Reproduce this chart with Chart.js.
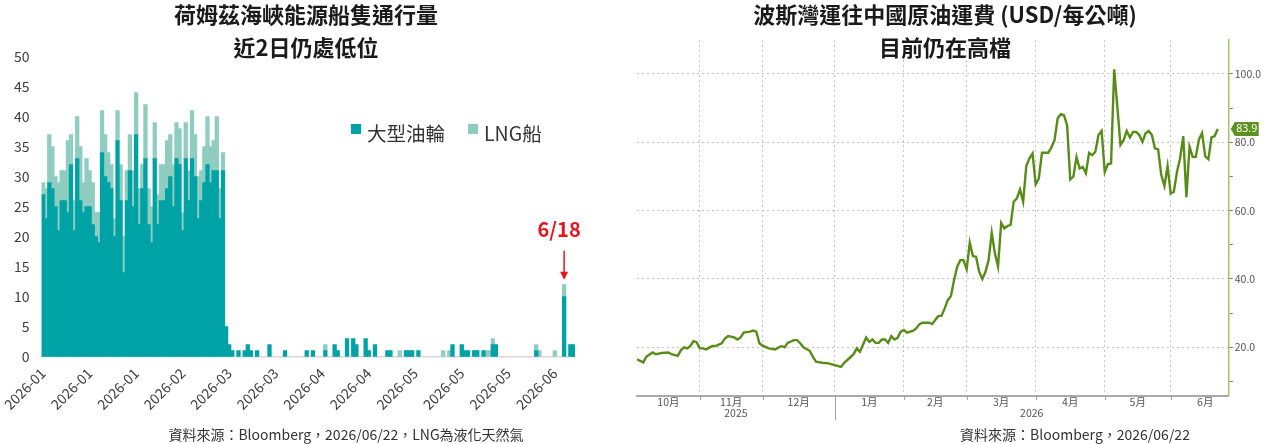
<!doctype html>
<html>
  <head>
    <meta charset="utf-8">
    <title>荷姆茲海峽船隻通行量 / 波斯灣運費</title>
    <script src="https://cdn.jsdelivr.net/npm/chart.js@4.4.1/dist/chart.umd.min.js"></script>
    <style>
        * { margin: 0; padding: 0; box-sizing: border-box; }
        body { width: 1265px; height: 444px; position: relative; overflow: hidden; background: #fff;
               font-family: "Noto Sans CJK TC", "Noto Sans", sans-serif; color: #222; }
        .box { position: absolute; top: 0; height: 444px; }
        .title { position: absolute; top: -3px; text-align: center; font-size: 22px; font-weight: bold; line-height: 33px; color: #1a1a1a; }
        .note { position: absolute; top: 424px; font-size: 14px; line-height: 20px; color: #333; white-space: nowrap; transform: translateX(-50%); }
        #legend { position: absolute; left: 351px; top: 118px; height: 28px; display: flex; align-items: center; font-size: 19.5px; color: #333; }
        #legend span.sq { display: inline-block; width: 10px; height: 10px; position: relative; top: -3px; margin-right: 6px; }
        #legend span.item { display: flex; align-items: center; margin-right: 23px; }
    </style>
  </head>
  <body>
    <div class="box" style="left:-10px; width:635px"><canvas id="shipCanvas"></canvas></div>
    <div class="box" style="left:630px; width:635px"><canvas id="rateCanvas"></canvas></div>

    <div class="title" style="left:0; width:612px">荷姆茲海峽能源船隻通行量<br>近2日仍處低位</div>
    <div class="title" style="left:630px; width:630px">波斯灣運往中國原油運費 (USD/每公噸)<br>目前仍在高檔</div>

    <div id="legend">
      <span class="item"><span class="sq" style="background:#00a3a5"></span>大型油輪</span>
      <span class="item"><span class="sq" style="background:#8ecdbf"></span>LNG船</span>
    </div>

    <div class="note" style="left:346px">資料來源：Bloomberg，2026/06/22，LNG為液化天然氣</div>
    <div class="note" style="left:1075px">資料來源：Bloomberg，2026/06/22</div>

    <script>
    // ---- left: daily ship counts from 2026-01-01 ----
    const tanker = [
      27,23,29,28,25,21,26,26,24,32,
      21,33,26,24,25,25,22,20,19,34,
      30,29,28,20,36,26,14,26,31,25,
      37,22,28,33,22,19,33,22,26,26,
      28,30,25,33,32,21,33,26,33,30,
      23,26,29,32,29,31,31,23,31,5,
      2,1,0,1,0,1,2,1,0,1,
      0,0,0,2,0,0,0,0,1,0,
      0,0,0,0,0,1,0,1,0,0,
      0,1,0,0,2,1,0,0,3,0,
      3,2,0,0,3,1,0,2,0,0,
      0,1,1,0,0,0,0,1,1,1,
      0,1,0,0,0,0,0,0,0,0,
      0,0,2,0,0,2,1,1,0,1,
      1,0,1,0,0,2,2,0,0,0,
      0,0,0,0,0,0,0,0,0,1,
      0,0,0,0,0,0,0,0,10,0,
      2,2
    ];
    const lng = [
      2,5,8,7,5,8,5,5,12,5,
      5,7,9,5,8,6,7,4,5,7,
      7,5,4,3,5,6,6,5,6,6,
      7,6,4,9,6,6,6,5,6,6,
      8,7,7,6,6,3,6,5,8,7,
      7,5,6,8,6,5,9,5,3,0,
      0,0,0,0,0,0,0,0,0,0,
      0,0,0,0,0,0,0,0,0,0,
      0,0,0,0,0,0,0,0,0,0,
      0,1,0,0,0,0,0,0,0,0,
      0,0,0,0,0,0,0,0,0,0,
      0,0,0,0,0,1,0,0,0,0,
      0,0,0,0,0,0,0,0,0,1,
      0,1,0,0,0,0,0,0,0,0,
      0,0,0,1,1,1,0,0,0,0,
      0,0,0,0,0,0,0,0,0,1,
      1,0,0,0,0,1,0,0,2,0,
      0,0
    ];
    const days = [];
    for (let i = 0; i < tanker.length; i++) {
      days.push(new Date(Date.UTC(2026, 0, 1 + i)).toISOString().slice(0, 10));
    }
    const markDay = '2026-06-18';
    const markText = '6/18';

    // ---- right: freight rate, x = trading days counted from 2025-10-01 ----
    const freightDay = [
      3,5,6,8,9,11,13,14,16,17,
      18,19,20,21,22,23,24,25,27,28,
      30,31,32,34,35,36,37,39,40,41,
      42,43,45,47,49,50,51,53,54,55,
      56,58,59,60,62,64,66,68,69,70,
      72,73,74,76,77,78,79,80,81,82,
      83,84,85,86,87,88,89,91,92,93,
      94,96,97,98,99,100,101,102,103,104,
      105,106,107,108,109,110,111,112,113,114,
      115,116,117,118,119,120,121,122,123,124,
      125,126,127,128,129,130,131,132,133,134,
      135,136,137,138,139,140,141,142,143,144,
      145,146,147,148,149,150,151,152,153,154,
      155,156,157,158,159,160,161,162,163,164,
      165,166,167,168,169,170,171,172,173,174,
      175,176,177,178,179,180,181,182,183,184,
      185,186,187,188
    ];
    const freightValue = [
      16.5,15.6,17.3,18.5,18.0,18.4,18.5,18.0,17.5,19.2,
      20.0,19.7,20.4,21.8,21.5,19.7,19.7,19.4,20.4,20.4,
      21.2,22.6,23.3,22.9,22.3,22.9,24.3,24.6,24.9,24.6,
      21.2,20.5,19.7,19.4,20.4,20.0,21.3,22.1,22.1,21.2,
      20.0,19.0,17.3,15.8,15.5,15.3,14.8,14.3,15.5,16.3,
      18.0,19.7,18.7,22.9,21.6,22.3,21.3,21.3,22.3,22.3,
      21.3,23.3,22.3,22.8,24.6,25.1,24.3,24.9,25.6,26.8,
      27.2,27.2,26.8,28.0,29.2,29.2,31.4,33.8,35.0,39.7,
      43.6,45.5,45.5,42.8,50.6,46.7,46.5,42.1,40.0,42.1,
      45.5,53.5,47.5,43.6,56.4,54.8,55.5,55.8,62.6,63.6,
      66.2,62.6,73.0,75.3,76.7,67.7,69.4,76.9,76.9,76.9,
      78.5,80.6,87.0,88.2,87.9,85.0,69.1,69.9,75.7,72.3,
      72.8,70.9,76.9,76.2,77.2,82.1,83.3,71.3,73.6,73.8,
      101.3,90.4,79.2,80.6,83.3,81.4,83.0,83.0,82.1,80.1,
      82.6,83.3,82.1,78.2,77.9,70.4,67.2,73.0,65.0,65.5,
      71.3,75.3,81.8,63.9,78.7,75.7,75.7,80.8,82.7,75.9,
      75.0,81.4,81.8,83.9
    ];
    const monthNames = ['10月','11月','12月','1月','2月','3月','4月','5月','6月'];
    const yearNames = ['2025','2026'];
    const rateTicks = [10,20,30,40,50,60,70,80,90,100];

    Chart.defaults.font.family = "'Noto Sans CJK TC', 'Noto Sans', sans-serif";
    Chart.defaults.animation = false;

    // trading days (Mon-Fri) from 2025-10-01 up to the given date
    function bizDays(y, m, d) {
      let n = 0;
      const t = new Date(Date.UTC(2025, 9, 1));
      const end = new Date(Date.UTC(y, m, d));
      while (t < end) {
        const w = t.getUTCDay();
        if (w !== 0 && w !== 6) n++;
        t.setUTCDate(t.getUTCDate() + 1);
      }
      return n;
    }

    // ================= left chart =================
    const markPlugin = {
      id: 'markPlugin',
      afterDatasetsDraw(chart) {
        const i = days.indexOf(markDay);
        const xs = chart.scales.x, ys = chart.scales.y;
        const px = xs.getPixelForValue(i);
        const top = ys.getPixelForValue(tanker[i] + lng[i]);
        const c = chart.ctx;
        c.save();
        c.strokeStyle = '#e8141c';
        c.fillStyle = '#e8141c';
        c.lineWidth = 1.5;
        c.beginPath();
        c.moveTo(px, top - 34);
        c.lineTo(px, top - 12);
        c.stroke();
        c.beginPath();
        c.moveTo(px - 4, top - 13);
        c.lineTo(px + 4, top - 13);
        c.lineTo(px, top - 5);
        c.closePath();
        c.fill();
        c.font = "bold 20px 'Noto Sans CJK TC', 'Noto Sans', sans-serif";
        c.textAlign = 'center';
        c.textBaseline = 'middle';
        c.fillText(markText, px - 5, top - 55);
        c.restore();
      }
    };

    var ctx1 = document.getElementById('shipCanvas').getContext('2d');
    var shipChart = new Chart(ctx1, {
        type: 'bar',
        data: {
            labels: days,
            datasets: [{
              label: '大型油輪',
              data: tanker.map(v => v || null),
              backgroundColor: '#00a3a5',
              borderWidth: 0,
              inflateAmount: 0.6,
              barPercentage: 1,
              categoryPercentage: 1
            }, {
              label: 'LNG船',
              data: lng.map(v => v || null),
              backgroundColor: '#8ecdbf',
              borderWidth: 0,
              inflateAmount: 0.6,
              barPercentage: 1,
              categoryPercentage: 1
            }]
        },
        options: {
          responsive: true,
          maintainAspectRatio: false,
          layout: { padding: { left: 12, right: 50, top: 57, bottom: 28 } },
          plugins: { legend: { display: false }, tooltip: { enabled: false } },
          scales: {
            x: {
              stacked: true,
              grid: {
                drawOnChartArea: false,
                tickLength: 5,
                lineWidth: 1.5,
                color: c => (c.index % 15 === 0 ? '#d4d4d4' : 'rgba(0,0,0,0)')
              },
              border: { color: '#d9d9d9', width: 1.5 },
              ticks: {
                autoSkip: false,
                minRotation: 45,
                maxRotation: 45,
                padding: 3,
                color: '#404040',
                font: { size: 14 },
                callback: (v, i) => (i % 15 === 0 ? days[i].slice(0, 7) : null)
              }
            },
            y: {
              stacked: true,
              min: 0,
              max: 50,
              grid: { display: false, drawTicks: false },
              border: { display: false },
              ticks: { stepSize: 5, padding: 12, color: '#404040', font: { size: 14 } }
            }
          }
        },
        plugins: [markPlugin]
    });

    // ================= right chart =================
    const monthStart = [];
    for (let k = 0; k <= 9; k++) monthStart.push(bizDays(2025, 9 + k, 1));
    const xMin = 3, xMax = 191.5;
    const monthMid = monthNames.map((m, k) => (Math.max(monthStart[k], xMin) + monthStart[k + 1]) / 2);
    const yearSplit = bizDays(2026, 0, 1);
    const yearMid = [(xMin + yearSplit) / 2, (yearSplit + xMax) / 2];

    const rateLine = freightDay.map((d, i) => ({ x: d, y: freightValue[i] }));

    const ratePlugin = {
      id: 'ratePlugin',
      afterDraw(chart) {
        const c = chart.ctx, a = chart.chartArea;
        const xs = chart.scales.x, ys = chart.scales.y;
        c.save();
        // month tick marks + year separator
        c.strokeStyle = '#a0a0a0';
        c.lineWidth = 1;
        monthStart.filter(v => v > xMin && v < xMax).forEach(v => {
          const mx = Math.round(xs.getPixelForValue(v)) + 0.5;
          c.beginPath();
          c.moveTo(mx, a.bottom);
          c.lineTo(mx, a.bottom + (v === yearSplit ? 24 : 4));
          c.stroke();
        });
        // last value badge
        const last = freightValue[freightValue.length - 1];
        const py = ys.getPixelForValue(last);
        const x0 = a.right + 2;
        c.fillStyle = '#5b9320';
        c.beginPath();
        c.moveTo(x0, py);
        c.lineTo(x0 + 4, py - 7);
        c.lineTo(x0 + 28, py - 7);
        c.lineTo(x0 + 28, py + 7);
        c.lineTo(x0 + 4, py + 7);
        c.closePath();
        c.fill();
        c.fillStyle = '#ffffff';
        c.font = "10.5px 'Noto Sans', sans-serif";
        c.textAlign = 'center';
        c.textBaseline = 'middle';
        c.fillText(last.toFixed(1), x0 + 16, py + 0.5);
        c.restore();
      }
    };

    var ctx2 = document.getElementById('rateCanvas').getContext('2d');
    var rateChart = new Chart(ctx2, {
        type: 'line',
        data: {
            datasets: [{
              label: '運費',
              data: rateLine,
              borderColor: '#578d17',
              borderWidth: 2.4,
              pointRadius: 0,
              tension: 0,
              xAxisID: 'x',
              yAxisID: 'y'
            }]
        },
        options: {
          responsive: true,
          maintainAspectRatio: false,
          layout: { padding: { left: 7, right: 2, top: 40, bottom: 25 } },
          plugins: { legend: { display: false }, tooltip: { enabled: false } },
          scales: {
            x: {
              type: 'linear',
              axis: 'x',
              position: 'bottom',
              weight: 0,
              min: xMin,
              max: xMax,
              afterBuildTicks: s => { s.ticks = monthStart.filter(v => v > xMin && v < xMax).map(v => ({ value: v })); },
              grid: { color: '#c4c4c4', drawTicks: false },
              border: { color: '#a9a9a9', width: 2, dash: [2, 3] },
              ticks: { display: false }
            },
            xm: {
              type: 'linear',
              axis: 'x',
              position: 'bottom',
              weight: 1,
              min: xMin,
              max: xMax,
              afterBuildTicks: s => { s.ticks = monthMid.map(v => ({ value: v })); },
              grid: { display: false, drawTicks: false },
              border: { display: false },
              ticks: { autoSkip: false, maxRotation: 0, padding: 0, color: '#555', font: { size: 10.5, lineHeight: 1.1 },
                       callback: (v, i) => monthNames[i] }
            },
            xy: {
              type: 'linear',
              axis: 'x',
              position: 'bottom',
              weight: 2,
              min: xMin,
              max: xMax,
              afterBuildTicks: s => { s.ticks = yearMid.map(v => ({ value: v })); },
              grid: { display: false, drawTicks: false },
              border: { display: false },
              ticks: { autoSkip: false, maxRotation: 0, padding: 0, color: '#555', font: { size: 10.5, lineHeight: 1.1 },
                       callback: (v, i) => yearNames[i] }
            },
            y: {
              type: 'linear',
              position: 'right',
              min: 5.8,
              max: 109.9,
              afterBuildTicks: s => { s.ticks = rateTicks.map(v => ({ value: v })); },
              grid: {
                color: c => (c.tick && c.tick.value % 20 === 0 ? '#c4c4c4' : 'rgba(0,0,0,0)'),
                tickLength: 4,
                tickColor: '#777',
                tickBorderDash: []
              },
              border: { color: '#9cc76f', width: 1.5, dash: [2, 3] },
              ticks: { padding: 2, color: '#555', font: { size: 10.5 },
                       callback: v => (v % 20 === 0 ? v.toFixed(1) : '') }
            }
          }
        },
        plugins: [ratePlugin]
    });
    </script>
  </body>
</html>
